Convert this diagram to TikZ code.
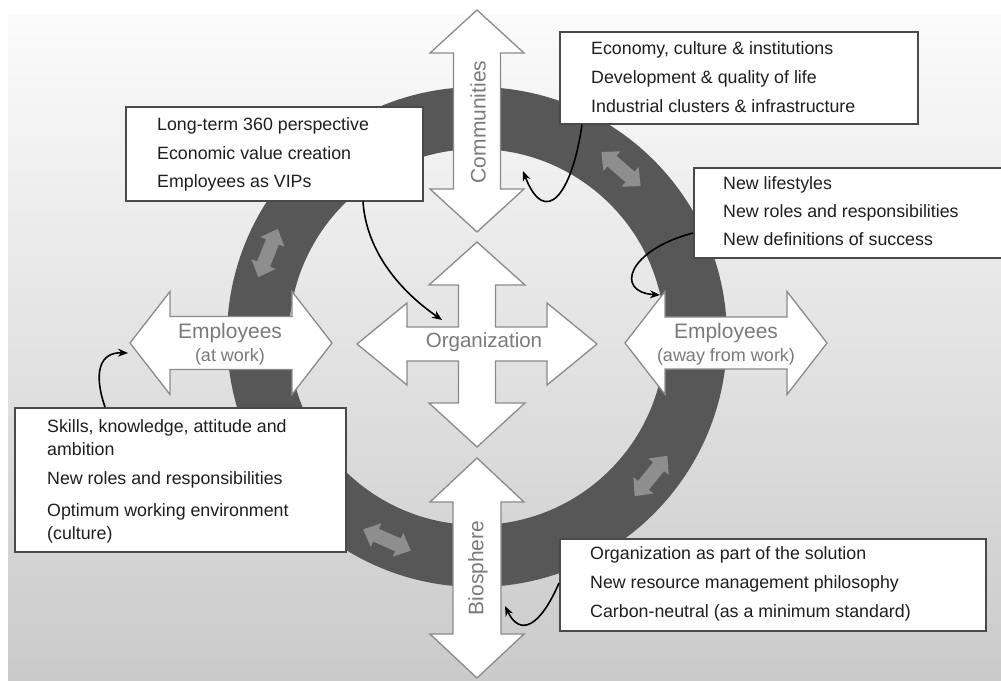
\documentclass[tikz,border=0pt]{standalone}
\usepackage{fontspec}
\setmainfont{Liberation Sans}
\usetikzlibrary{arrows.meta}
\definecolor{ringcol}{HTML}{575757}
\definecolor{smallcol}{HTML}{8E8E8E}
\definecolor{arrowedge}{HTML}{8A8A8A}
\definecolor{labelcol}{HTML}{7A7A7A}
\definecolor{boxedge}{HTML}{4A4A4A}
\definecolor{txtcol}{HTML}{1E1E1E}
\definecolor{bgtop}{HTML}{FBFBFB}
\definecolor{bgbot}{HTML}{CACACA}
\tikzset{
  pics/dbl/.style n args={4}{code={
    \path[pic actions] (-#1,0) -- (-#1+#2,-#4) -- (-#1+#2,-#3) -- (#1-#2,-#3) -- (#1-#2,-#4) -- (#1,0)
      -- (#1-#2,#4) -- (#1-#2,#3) -- (-#1+#2,#3) -- (-#1+#2,#4) -- cycle;
  }},
  bigarrow/.style={fill=white, draw=arrowedge, line width=1.3pt, line join=miter},
  smallarrow/.style={fill=smallcol, draw=none},
  infobox/.style={fill=white, draw=boxedge, line width=1.5pt},
  boxline/.style={anchor=base west, inner sep=0pt, text=txtcol, font=\fontsize{17.8}{20}\selectfont},
  biglabel/.style={text=labelcol, inner sep=0pt, font=\fontsize{21}{24}\selectfont},
  sublabel/.style={text=labelcol, inner sep=0pt, anchor=base, font=\fontsize{18}{20}\selectfont},
  conn/.style={line width=1.6pt, black, -{Stealth[length=10pt,width=8pt]}},
}
\begin{document}
\begin{tikzpicture}[x=1pt,y=-1pt]
\useasboundingbox (0,0) rectangle (1001,680);
\fill[white] (0,0) rectangle (1001,680);
\shade[top color=bgtop, bottom color=bgbot] (8,15) rectangle (1001,680);

% ring
\fill[ringcol, even odd rule] (477,337) circle (250pt) (477,337) circle (188pt);

% small arrows on the ring
\pic[smallarrow, rotate=68] at (268,253) {dbl={26}{14}{7}{13}};
\pic[smallarrow, rotate=-41] at (621,169) {dbl={26}{14}{7}{13}};
\pic[smallarrow, rotate=51] at (651,476) {dbl={26}{14}{7}{13}};
\pic[smallarrow, rotate=-24] at (387,540) {dbl={26}{14}{7}{13}};

% big arrows
\pic[bigarrow, rotate=90] at (477,121) {dbl={111}{43}{23.5}{47}};
\pic[bigarrow, rotate=90] at (477,568) {dbl={110}{44}{24}{47}};
\pic[bigarrow] at (231,343) {dbl={101}{40}{26.5}{51.5}};
\pic[bigarrow] at (726,343) {dbl={101}{40}{26}{51.5}};
\path[bigarrow, shift={(477,344)}]
  (0,-102) -- (48,-59) -- (18.5,-59) -- (18.5,-17) -- (70,-17) -- (70,-41) -- (120,0)
  -- (70,41) -- (70,17) -- (18.5,17) -- (18.5,59) -- (48,59) -- (0,103)
  -- (-48,59) -- (-18.5,59) -- (-18.5,17) -- (-70,17) -- (-70,41) -- (-120,0)
  -- (-70,-41) -- (-70,-17) -- (-18.5,-17) -- (-18.5,-59) -- (-48,-59) -- cycle;

% arrow labels
\node[biglabel, rotate=90] (comm) at (478,122) {Communities};
\node[biglabel, rotate=90] (bio) at (478,568) {Biosphere};
\node[biglabel, font=\fontsize{20.5}{24}\selectfont] (org) at (484,342) {Organization};
\node[sublabel, font=\fontsize{21}{24}\selectfont] (empl) at (230,338) {Employees};
\node[sublabel] (emplsub) at (230,361) {(at work)};
\node[sublabel, font=\fontsize{21}{24}\selectfont] (empr) at (726,338) {Employees};
\node[sublabel] (emprsub) at (726,361) {(away from work)};

% named target points on the arrows
\coordinate (orgnotch) at (442,320);
\coordinate (commedge) at (523,171);
\coordinate (emprtip) at (660,295);
\coordinate (empltip) at (128,353);
\coordinate (bioedge) at (505,606);

% info boxes
\node[infobox, anchor=north west, minimum width=297pt, minimum height=94pt] (b1) at (125,106) {};
\node[boxline] (b1a) at (157,130) {Long-term 360 perspective};
\node[boxline] (b1b) at (157,159) {Economic value creation};
\node[boxline] (b1c) at (157,187) {Employees as VIPs};

\node[infobox, anchor=north west, minimum width=358pt, minimum height=92pt] (b2) at (559,31) {};
\node[boxline] (b2a) at (591,54) {Economy, culture \& institutions};
\node[boxline] (b2b) at (591,83) {Development \& quality of life};
\node[boxline] (b2c) at (591,112) {Industrial clusters \& infrastructure};

\node[infobox, anchor=north west, minimum width=320pt, minimum height=90pt] (b3) at (693,167) {};
\node[boxline] (b3a) at (723,189) {New lifestyles};
\node[boxline] (b3b) at (723,217) {New roles and responsibilities};
\node[boxline] (b3c) at (723,245) {New definitions of success};

\node[infobox, anchor=north west, minimum width=331pt, minimum height=144pt] (b4) at (14,407) {};
\node[boxline] (b4a) at (47,432) {Skills, knowledge, attitude and};
\node[boxline] (b4b) at (47,455) {ambition};
\node[boxline] (b4c) at (47,484) {New roles and responsibilities};
\node[boxline] (b4d) at (47,516) {Optimum working environment};
\node[boxline] (b4e) at (47,539) {(culture)};

\node[infobox, anchor=north west, minimum width=426pt, minimum height=92pt] (b5) at (559,538) {};
\node[boxline] (b5a) at (590,559) {Organization as part of the solution};
\node[boxline] (b5b) at (590,588) {New resource management philosophy};
\node[boxline] (b5c) at (590,617) {Carbon-neutral (as a minimum standard)};

% connectors
\draw[conn] ([xshift=238pt]b1.south west) .. controls (366,248) and (396,288) .. (orgnotch);
\draw[conn] ([xshift=23pt]b2.south west) .. controls (572,195) and (545,228) .. (commedge);
\draw[conn] ([yshift=-66pt]b3.north west) .. controls (628,250) and (614,292) .. (emprtip);
\draw[conn] ([xshift=91pt]b4.north west) .. controls (93,372) and (100,352) .. (empltip);
\draw[conn] ([yshift=-45pt]b5.north west) .. controls (540,627) and (520,637) .. (bioedge);
\end{tikzpicture}
\end{document}
